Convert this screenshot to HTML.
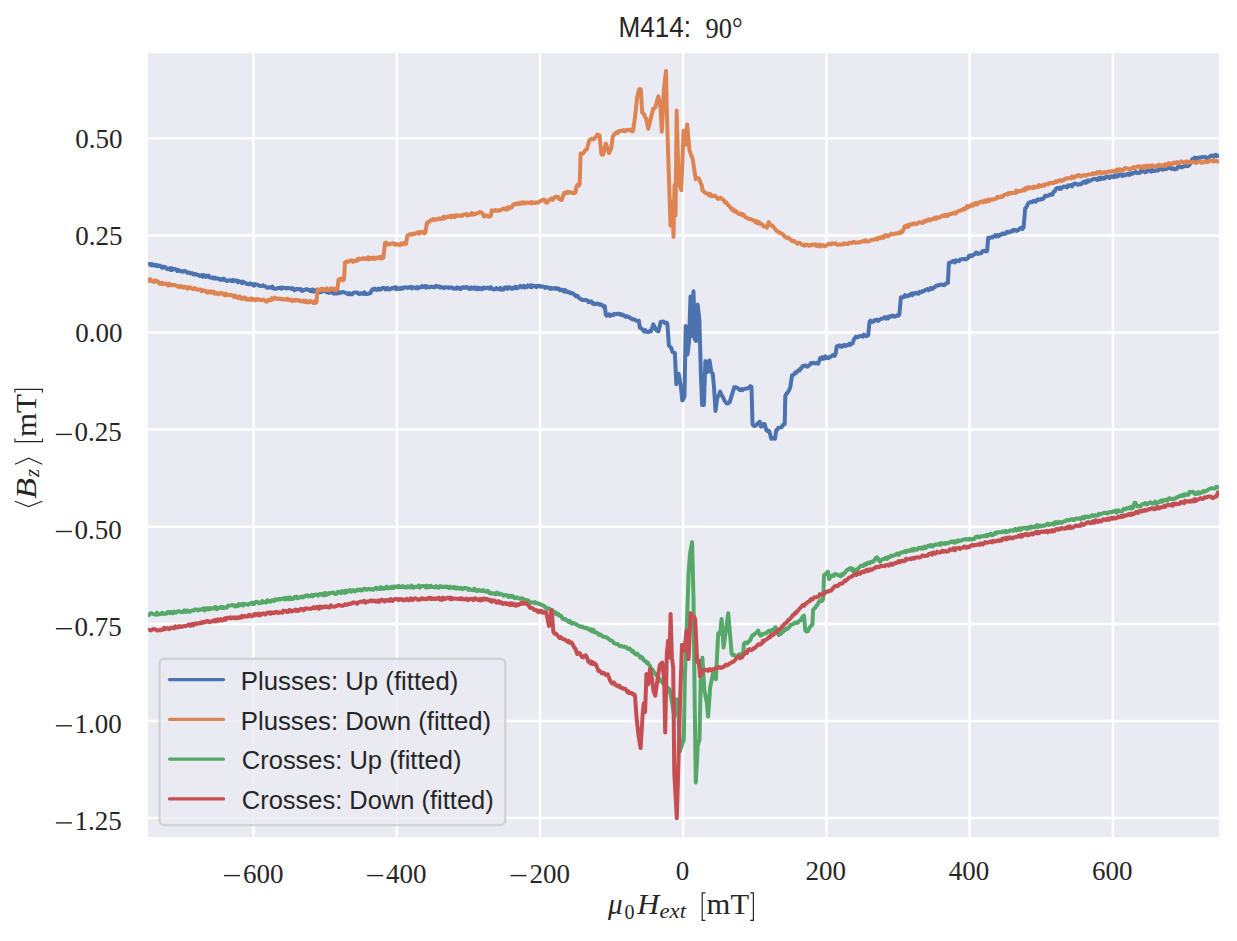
<!DOCTYPE html>
<html><head><meta charset="utf-8"><title>M414</title><style>
html,body{margin:0;padding:0;background:#ffffff;}
body{width:1237px;height:941px;overflow:hidden;}
svg{display:block;}
.t{font-family:"Liberation Serif",serif;fill:#262626;}
.s{font-family:"Liberation Sans",sans-serif;fill:#262626;}
</style></head><body>
<svg width="1237" height="941" viewBox="0 0 1237 941">
<defs><clipPath id="ax"><rect x="148" y="53" width="1071" height="784"/></clipPath></defs>
<rect x="0" y="0" width="1237" height="941" fill="#ffffff"/>
<rect x="148" y="53" width="1071" height="784" fill="#EAEAF2"/>
<g stroke="#ffffff" stroke-width="2.5"><line x1="253.5" y1="53" x2="253.5" y2="837"/><line x1="396.7" y1="53" x2="396.7" y2="837"/><line x1="540.0" y1="53" x2="540.0" y2="837"/><line x1="683.1" y1="53" x2="683.1" y2="837"/><line x1="826.4" y1="53" x2="826.4" y2="837"/><line x1="969.6" y1="53" x2="969.6" y2="837"/><line x1="1112.9" y1="53" x2="1112.9" y2="837"/><line x1="148" y1="138.3" x2="1219" y2="138.3"/><line x1="148" y1="235.4" x2="1219" y2="235.4"/><line x1="148" y1="332.5" x2="1219" y2="332.5"/><line x1="148" y1="429.6" x2="1219" y2="429.6"/><line x1="148" y1="526.7" x2="1219" y2="526.7"/><line x1="148" y1="623.9" x2="1219" y2="623.9"/><line x1="148" y1="721.0" x2="1219" y2="721.0"/><line x1="148" y1="818.1" x2="1219" y2="818.1"/></g>
<g clip-path="url(#ax)" fill="none" stroke-width="4.0" stroke-linejoin="round" stroke-linecap="butt">
<polyline stroke="#4C72B0" points="148.0,264.3 149.0,264.1 150.0,263.9 151.0,265.2 152.1,264.2 153.1,265.4 154.1,265.2 155.1,264.7 156.1,265.9 157.1,265.1 158.1,266.2 159.1,265.6 160.1,265.8 161.2,266.7 162.2,267.8 163.2,266.5 164.2,267.5 165.2,267.1 166.2,268.2 167.2,269.1 168.2,268.5 169.2,268.4 170.2,269.9 171.2,268.0 172.2,270.0 173.3,269.0 174.3,268.9 175.3,269.1 176.3,269.7 177.3,271.0 178.3,269.9 179.3,271.0 180.3,271.0 181.3,271.5 182.3,271.2 183.3,271.8 184.4,270.9 185.4,271.1 186.4,271.7 187.4,272.9 188.4,272.6 189.4,272.6 190.4,273.4 191.4,273.3 192.4,273.2 193.5,274.5 194.5,274.5 195.5,273.7 196.5,274.5 197.5,274.9 198.5,274.9 199.5,275.9 200.6,275.8 201.6,275.0 202.6,276.7 203.6,275.0 204.6,275.8 205.6,276.8 206.6,275.6 207.6,276.5 208.6,275.7 209.7,277.3 210.7,277.7 211.7,277.5 212.7,277.5 213.7,278.5 214.7,277.5 215.7,278.5 216.7,278.4 217.7,278.6 218.7,278.5 219.7,279.5 220.8,279.9 221.8,279.1 222.8,279.7 223.8,278.5 224.8,280.1 225.8,280.2 226.8,281.1 227.8,280.9 228.8,280.4 229.8,280.1 230.8,280.4 231.8,281.2 232.9,279.9 233.9,281.1 234.9,280.6 235.9,280.6 236.9,280.6 237.9,282.3 238.9,281.1 239.9,281.5 240.9,282.0 242.0,283.2 243.0,281.6 244.0,282.5 245.0,282.8 246.0,283.1 247.0,284.1 248.0,284.1 249.1,284.4 250.1,283.3 251.1,283.9 252.1,283.9 253.1,285.3 254.1,285.7 255.1,284.1 256.1,284.4 257.1,284.7 258.2,284.9 259.2,285.7 260.2,286.1 261.2,286.1 262.2,285.7 263.2,285.3 264.2,286.3 265.2,286.3 266.2,286.9 267.2,287.9 268.2,287.4 269.2,287.2 270.3,287.5 271.3,287.8 272.3,286.6 273.3,288.6 274.3,288.4 275.3,288.8 276.3,288.7 277.3,288.2 278.3,288.0 279.3,288.1 280.3,287.5 281.4,288.8 282.4,287.6 283.4,287.7 284.4,288.0 285.4,288.0 286.4,288.5 287.4,287.9 288.4,287.9 289.4,288.3 290.5,288.2 291.5,288.9 292.5,288.2 293.5,289.3 294.5,290.2 295.5,289.7 296.5,288.7 297.6,289.0 298.6,289.3 299.6,289.4 300.6,289.0 301.6,290.6 302.6,291.0 303.6,289.9 304.6,290.0 305.6,289.2 306.7,289.3 307.7,289.9 308.7,289.8 309.7,290.4 310.7,291.2 311.7,289.8 312.7,289.6 313.7,291.7 314.7,290.9 315.7,290.1 316.7,291.1 317.8,290.0 318.8,291.2 319.8,292.3 320.8,292.1 321.8,291.8 322.8,290.9 323.8,291.2 324.8,290.9 325.8,291.7 326.9,292.5 327.9,292.1 328.9,292.8 330.0,292.4 331.0,292.1 332.0,291.9 333.0,293.2 334.1,293.7 335.1,293.4 336.1,293.4 337.1,293.5 338.1,293.3 339.1,292.2 340.1,292.9 341.1,292.6 342.1,292.0 343.2,292.0 344.2,292.6 345.2,292.6 346.2,293.2 347.2,293.6 348.2,294.2 349.2,293.1 350.2,294.2 351.2,294.3 352.2,294.2 353.3,292.9 354.3,292.6 355.3,292.6 356.3,292.5 357.3,292.5 358.3,293.5 359.3,294.1 360.3,293.9 361.3,293.2 362.3,293.5 363.3,293.9 364.3,292.3 365.4,293.6 366.4,294.1 367.4,293.8 368.4,293.8 369.4,293.2 370.4,293.2 371.6,290.4 372.8,289.1 373.8,289.7 374.9,288.7 375.9,289.6 377.0,290.0 378.0,288.7 379.1,288.7 380.1,289.8 381.1,289.3 382.2,288.0 383.2,287.9 384.3,287.9 385.3,289.5 386.4,289.3 387.4,287.8 388.4,289.2 389.5,289.5 390.5,288.8 391.6,288.1 392.6,288.5 393.7,287.5 394.7,288.3 395.7,287.2 396.7,289.3 397.7,288.5 398.7,288.2 399.7,289.1 400.7,287.9 401.8,288.8 402.8,288.7 403.8,287.3 404.8,287.4 405.8,287.4 406.8,287.2 407.8,288.0 408.8,287.2 409.8,287.5 410.8,286.8 411.8,288.5 412.8,287.3 413.8,287.4 414.9,287.7 415.9,288.3 416.9,287.2 417.9,288.3 418.9,287.3 419.9,287.4 420.9,287.3 421.9,286.2 422.9,287.0 423.9,286.4 424.9,286.0 425.9,287.7 426.9,286.3 427.9,286.9 429.0,287.4 430.0,287.0 431.0,286.5 432.0,286.9 433.0,286.9 434.0,287.4 435.0,286.7 436.0,285.9 437.0,286.9 438.0,286.3 439.1,286.4 440.1,287.6 441.1,287.0 442.1,287.2 443.1,287.7 444.1,288.1 445.1,287.1 446.1,287.5 447.1,287.4 448.2,287.4 449.2,287.9 450.2,287.4 451.2,287.6 452.2,287.6 453.2,288.6 454.2,288.2 455.2,288.6 456.3,288.8 457.3,287.4 458.3,288.1 459.3,288.0 460.3,289.0 461.3,288.8 462.3,287.2 463.4,287.2 464.4,287.9 465.4,287.1 466.4,287.5 467.4,287.1 468.4,288.5 469.4,288.7 470.4,289.0 471.4,287.4 472.5,288.6 473.5,288.5 474.5,287.4 475.5,289.0 476.5,289.2 477.5,287.6 478.5,289.2 479.6,288.0 480.6,288.2 481.6,289.3 482.6,288.9 483.6,287.5 484.6,288.1 485.6,288.3 486.6,287.9 487.6,287.6 488.7,287.9 489.7,288.8 490.7,287.2 491.7,288.3 493.4,289.4 494.4,289.4 495.4,289.1 496.5,288.1 497.5,288.7 498.5,289.3 499.5,288.9 500.5,287.9 501.6,289.8 502.6,289.3 503.6,289.6 504.6,287.6 505.7,287.9 506.7,287.3 507.7,288.8 508.7,287.6 509.7,287.2 510.8,287.8 511.8,288.8 512.8,287.8 513.8,288.4 514.8,287.1 515.8,286.7 516.8,288.3 517.8,287.5 518.8,287.6 519.8,286.2 520.8,286.0 521.9,287.3 522.9,286.6 523.9,285.8 524.9,287.6 525.9,286.8 526.9,287.1 527.9,285.4 528.9,286.2 530.0,287.0 531.1,285.2 532.1,287.0 533.2,286.1 534.3,285.8 535.4,286.3 536.4,287.1 537.5,285.7 538.6,286.2 539.7,285.7 540.8,286.8 541.9,286.4 542.9,286.4 544.0,286.8 545.1,287.8 546.1,286.9 547.1,287.3 548.1,287.7 549.2,287.8 550.2,288.9 551.2,287.9 552.2,288.5 553.2,288.6 554.3,288.1 555.4,288.7 556.4,288.1 557.5,288.9 558.6,288.5 559.7,290.3 560.7,290.1 561.8,289.5 562.9,290.3 564.0,291.6 565.0,289.9 566.1,291.0 567.2,292.1 568.3,291.7 569.4,292.2 570.4,293.3 571.5,292.8 572.6,293.4 573.7,294.0 574.8,295.1 575.8,296.3 576.9,295.5 578.0,296.5 579.1,298.1 580.1,298.7 581.2,299.3 582.3,299.9 583.3,300.0 584.4,300.1 585.4,299.8 586.4,300.2 587.4,300.4 588.5,302.2 589.5,301.4 590.5,301.5 591.5,301.6 592.6,303.6 593.6,303.1 594.6,304.2 595.7,304.1 596.7,303.5 597.7,303.7 598.7,304.1 599.8,304.8 600.8,304.4 601.8,305.4 602.8,305.3 603.9,307.1 604.9,306.4 605.7,314.5 606.7,315.7 607.8,314.8 608.8,314.3 609.9,316.0 610.9,314.7 612.0,314.9 613.0,315.3 614.2,313.8 615.4,314.2 616.6,314.0 617.8,313.7 618.8,314.1 619.8,313.8 620.8,314.9 621.8,314.2 622.9,315.2 623.9,315.2 624.9,316.3 625.9,316.9 626.9,316.2 627.9,316.4 628.9,317.4 630.0,317.5 631.0,318.6 632.0,318.8 633.0,319.6 634.0,319.3 635.2,320.0 636.5,320.6 637.7,321.3 638.9,320.9 639.9,327.6 640.9,328.1 641.9,328.8 642.9,329.9 644.1,331.4 645.3,330.0 646.4,331.7 647.6,332.0 648.8,332.1 649.9,330.7 651.0,331.3 653.3,324.3 654.8,327.6 656.0,329.6 657.3,330.9 658.5,331.3 660.7,321.7 662.0,321.8 663.4,321.4 664.4,322.5 665.4,323.3 666.4,322.5 667.4,323.9 668.9,345.5 670.0,346.7 671.1,347.7 672.6,352.2 673.8,352.6 674.9,352.9 676.3,384.2 678.6,373.8 680.8,385.7 682.3,400.5 683.4,399.0 684.5,396.1 685.7,326.1 687.5,354.4 689.0,342.5 690.5,296.4 692.0,336.5 693.5,291.2 694.9,339.5 696.1,341.0 697.6,304.6 699.4,320.2 700.9,375.2 702.1,405.0 703.9,405.0 705.4,361.0 707.6,372.0 709.5,360.4 711.3,372.0 712.8,374.0 714.0,387.0 715.5,411.0 717.3,397.6 718.8,395.3 720.2,391.6 721.2,394.3 722.2,395.8 723.2,397.6 724.4,400.5 725.6,402.0 726.8,403.6 728.2,403.3 729.7,402.1 734.2,387.3 735.4,387.3 736.6,387.4 737.7,388.2 738.9,389.3 740.1,390.2 741.2,389.0 742.4,390.2 743.5,389.3 744.6,388.8 745.8,388.7 746.9,388.4 748.0,388.2 749.2,387.4 750.4,386.0 751.5,386.8 752.5,424.1 753.6,425.7 754.8,426.0 756.0,425.5 757.2,423.9 758.5,422.9 759.7,421.7 760.9,426.6 762.1,426.1 763.4,424.0 764.6,424.1 766.4,430.2 767.4,431.2 768.4,430.5 769.4,431.5 771.3,438.8 772.5,437.9 773.8,438.3 775.0,438.8 776.2,430.2 777.2,429.9 778.2,428.0 779.2,427.8 780.3,427.6 781.4,427.4 782.5,425.6 783.6,424.6 784.7,424.1 785.3,396.0 786.5,393.8 787.8,392.2 789.0,390.2 790.2,387.5 792.1,375.2 793.1,374.9 794.2,374.3 795.2,372.5 796.3,372.8 797.4,371.1 798.4,370.3 799.5,370.5 800.5,368.5 801.6,368.2 802.6,366.0 803.7,366.1 804.9,365.3 806.1,366.0 807.3,366.7 808.5,365.8 809.8,364.7 811.0,363.0 812.0,363.5 813.1,362.7 814.1,363.3 815.2,363.3 816.2,363.4 817.3,362.7 818.3,363.6 820.2,358.1 821.2,358.8 822.3,357.2 823.3,358.8 824.4,358.6 825.4,356.4 826.4,357.3 827.5,358.0 828.5,358.2 829.6,356.9 830.6,356.9 831.8,355.8 833.0,355.0 834.3,356.0 835.5,354.4 836.7,346.5 837.7,345.8 838.7,346.5 839.8,345.4 840.8,346.2 841.8,347.0 842.8,345.9 843.9,344.8 845.0,346.0 846.1,345.1 847.2,345.6 848.2,345.0 849.3,343.6 850.4,344.8 851.5,343.6 852.6,343.4 853.8,339.6 855.0,337.9 856.0,336.6 857.0,337.4 858.0,337.1 859.0,336.5 860.0,335.9 861.0,336.1 862.0,335.8 863.0,336.7 864.0,334.6 865.0,335.5 866.1,336.0 867.1,336.0 868.2,335.2 869.6,321.5 870.7,320.5 871.7,322.0 872.8,321.3 873.9,321.5 875.0,320.0 876.0,320.0 877.1,319.8 878.2,320.9 879.2,319.8 880.3,319.4 881.3,318.8 882.3,318.7 883.3,318.1 884.3,317.4 885.3,317.2 886.3,318.6 887.3,317.1 888.3,318.3 889.3,316.5 890.4,316.3 891.4,316.5 892.4,315.6 893.4,315.7 894.4,316.7 895.4,316.3 896.4,315.9 897.4,315.2 898.4,315.6 899.4,314.4 900.9,297.2 901.9,297.9 903.0,296.8 904.0,296.9 905.0,295.2 906.1,296.4 907.1,295.5 908.2,295.9 909.2,295.4 910.2,294.4 911.3,293.6 912.3,295.2 913.3,293.2 914.4,293.7 915.4,293.2 916.5,292.8 917.5,293.5 918.5,293.8 919.6,291.9 920.6,292.2 921.6,292.2 922.6,291.0 923.6,291.2 924.7,290.5 925.7,289.6 926.7,289.3 927.7,289.0 928.7,290.2 929.7,288.9 930.7,287.9 931.8,289.1 932.8,288.9 933.8,287.4 934.8,287.1 935.8,286.0 936.8,285.8 937.8,285.3 938.8,285.5 939.8,284.7 940.8,284.7 941.9,284.4 942.9,284.8 943.9,285.2 944.9,284.6 945.9,283.5 946.9,283.2 947.9,283.1 948.9,262.9 949.9,262.7 950.9,262.1 951.9,261.8 952.9,260.9 953.9,261.2 954.9,262.4 955.9,260.3 957.0,260.9 958.0,260.9 959.0,261.2 960.0,259.5 961.0,259.4 962.0,259.1 963.0,259.2 964.0,259.0 965.0,258.9 966.0,259.4 967.0,258.6 968.0,258.2 969.0,255.8 970.0,255.3 971.1,256.3 972.1,256.2 973.1,254.8 974.1,254.5 975.1,253.8 976.1,252.5 977.1,253.1 978.1,254.0 979.1,253.5 980.1,253.3 981.2,253.3 982.2,251.5 983.2,250.9 984.2,250.8 985.2,251.3 986.2,251.5 987.2,250.8 988.2,237.7 989.2,238.4 990.2,237.7 991.2,237.3 992.3,237.4 993.3,236.5 994.3,236.4 995.3,235.1 996.3,236.5 997.3,235.0 998.4,236.3 999.4,235.5 1000.4,234.5 1001.4,234.7 1002.4,233.6 1003.4,233.5 1004.4,234.0 1005.4,233.8 1006.4,232.2 1007.5,231.8 1008.5,232.5 1009.5,232.3 1010.5,231.5 1011.5,230.9 1012.5,231.4 1013.5,229.8 1014.5,230.1 1015.5,230.1 1016.5,230.9 1017.5,229.9 1018.6,230.1 1019.6,228.8 1020.6,228.0 1021.6,227.7 1022.6,228.9 1023.6,227.6 1025.2,208.4 1026.3,207.4 1027.4,205.0 1028.5,202.8 1029.6,202.4 1030.6,202.1 1031.7,202.3 1032.7,201.4 1033.8,200.8 1034.8,201.5 1035.8,201.8 1036.9,200.0 1037.9,199.3 1039.0,199.7 1040.0,199.8 1041.2,199.1 1042.5,199.2 1043.7,198.3 1044.8,196.2 1045.8,195.5 1047.0,196.0 1048.1,195.7 1049.3,195.1 1050.4,194.3 1051.6,194.8 1052.7,194.4 1053.8,191.4 1054.9,191.1 1056.0,188.9 1057.0,188.1 1058.0,187.8 1059.0,188.8 1060.0,187.6 1061.0,188.8 1062.0,187.6 1063.1,186.7 1064.1,186.5 1065.1,186.7 1066.1,187.0 1067.1,187.4 1068.1,185.4 1069.1,186.0 1070.1,185.5 1071.2,184.9 1072.2,186.3 1073.3,184.2 1074.3,183.7 1075.4,183.5 1076.4,184.0 1077.4,184.8 1078.5,184.5 1079.5,183.9 1080.6,184.3 1081.6,183.9 1082.7,182.3 1083.7,182.4 1084.7,181.4 1085.8,182.8 1086.8,182.1 1087.8,180.3 1088.9,181.4 1089.9,180.5 1091.0,180.3 1092.0,179.9 1093.0,179.3 1094.1,178.7 1095.1,179.0 1096.1,178.9 1097.2,180.0 1098.2,178.7 1099.2,177.7 1100.3,179.4 1101.3,177.6 1102.4,177.8 1103.4,178.7 1104.5,178.5 1105.5,177.5 1106.5,176.5 1107.6,177.3 1108.6,176.9 1109.7,178.0 1110.7,176.2 1111.8,176.5 1112.8,176.6 1113.8,177.3 1114.9,175.3 1115.9,175.9 1116.9,176.7 1118.0,176.4 1119.0,174.6 1120.0,174.5 1121.1,174.4 1122.1,176.1 1123.2,174.5 1124.2,175.4 1125.2,175.6 1126.3,174.2 1127.3,174.4 1128.3,173.7 1129.4,175.0 1130.4,174.0 1131.5,173.0 1132.5,173.8 1133.6,172.8 1134.6,172.5 1135.6,171.7 1136.7,173.1 1137.7,173.2 1138.8,172.4 1139.8,172.9 1140.9,170.7 1141.9,171.5 1142.9,170.8 1144.0,171.3 1145.0,172.2 1146.0,172.1 1147.1,170.8 1148.1,170.4 1149.2,170.7 1150.2,170.7 1151.2,171.6 1152.3,169.9 1153.3,171.1 1154.3,170.9 1155.4,171.0 1156.4,170.2 1157.5,170.6 1158.5,170.1 1159.6,169.3 1160.6,169.1 1161.7,169.0 1162.8,169.8 1163.8,168.1 1164.9,168.2 1165.9,169.2 1167.0,168.5 1168.1,168.0 1169.2,167.7 1170.4,167.7 1171.5,168.9 1172.6,168.8 1173.6,168.2 1174.7,169.4 1175.7,169.0 1176.7,169.0 1177.8,167.2 1178.8,166.6 1179.9,166.4 1180.9,167.1 1181.9,167.4 1183.0,166.6 1184.0,166.5 1185.0,165.7 1186.0,165.9 1187.0,166.2 1188.0,166.1 1189.0,165.5 1190.1,163.8 1191.3,161.9 1192.4,158.9 1193.5,159.1 1194.6,157.7 1195.6,159.1 1196.7,157.7 1197.8,158.2 1198.8,157.6 1199.9,158.2 1201.0,157.5 1202.1,156.9 1203.2,157.1 1204.4,157.2 1205.5,157.1 1206.6,158.0 1207.7,158.3 1208.9,157.2 1210.0,156.1 1211.2,155.8 1212.3,155.5 1213.4,156.6 1214.5,155.5 1215.7,154.9 1216.8,156.2 1217.9,155.8 1219.0,155.5"/>
<polyline stroke="#DD8452" points="148.0,279.6 149.0,280.9 150.0,279.2 151.0,280.3 152.1,281.3 153.1,281.6 154.1,282.0 155.1,280.4 156.1,281.2 157.1,281.1 158.1,281.5 159.1,283.5 160.1,282.9 161.2,283.9 162.2,282.9 163.2,284.2 164.2,283.7 165.2,283.8 166.2,283.6 167.2,284.9 168.2,285.5 169.2,283.8 170.2,285.1 171.2,285.4 172.2,284.7 173.3,285.2 174.3,284.9 175.3,285.2 176.3,285.6 177.3,286.5 178.3,286.8 179.3,286.0 180.3,286.9 181.3,286.0 182.3,286.8 183.3,287.7 184.4,286.8 185.4,287.2 186.4,287.1 187.4,288.6 188.4,288.2 189.4,287.3 190.4,287.5 191.4,288.3 192.4,288.8 193.5,289.2 194.5,288.1 195.5,288.4 196.5,289.3 197.5,289.9 198.5,289.5 199.5,289.4 200.6,289.7 201.6,291.3 202.6,290.1 203.6,290.8 204.6,290.6 205.6,290.9 206.6,292.1 207.6,292.6 208.6,291.4 209.7,291.2 210.7,292.6 211.7,291.6 212.7,292.5 213.7,291.6 214.7,293.7 215.7,292.8 216.7,293.8 217.7,293.1 218.7,294.3 219.7,293.5 220.8,293.0 221.8,292.8 222.8,294.2 223.8,294.5 224.8,295.3 225.8,293.6 226.8,295.0 227.8,294.6 228.8,295.0 229.8,295.2 230.8,294.7 231.8,295.2 232.9,295.9 233.9,297.0 234.9,295.5 235.9,296.5 236.9,297.4 237.9,298.0 238.9,296.5 239.9,296.6 240.9,298.6 242.0,298.9 243.0,298.0 244.0,297.3 245.0,298.5 246.0,299.5 247.0,298.5 248.0,299.7 249.1,299.2 250.1,299.7 251.1,298.4 252.1,299.8 253.1,298.7 254.1,299.2 255.1,300.3 256.1,300.3 257.1,299.0 258.2,299.2 259.2,299.7 260.2,300.0 261.2,300.1 262.3,300.0 263.3,299.6 264.4,300.0 265.5,301.3 266.5,301.8 267.6,301.1 268.7,299.6 269.8,300.3 270.9,300.2 271.9,298.2 273.0,299.4 274.1,298.2 275.1,297.5 276.2,298.7 277.2,298.7 278.2,299.0 279.2,298.4 280.3,298.7 281.3,299.2 282.3,299.0 283.3,299.6 284.4,299.3 285.4,299.5 286.4,299.5 287.4,298.7 288.4,300.1 289.4,300.0 290.5,299.5 291.5,300.8 292.5,300.9 293.5,300.4 294.5,299.9 295.5,300.6 296.5,299.9 297.6,300.1 298.6,300.9 299.6,300.3 300.6,301.2 301.6,301.4 302.7,301.5 303.7,300.5 304.8,301.9 305.9,300.7 306.9,302.2 308.0,302.4 309.1,301.8 310.1,300.9 311.2,301.9 312.2,301.7 313.3,303.0 314.4,301.3 315.4,302.9 316.5,302.2 317.5,289.3 318.5,290.4 319.6,289.8 320.6,289.9 321.7,288.6 322.7,290.3 323.8,289.2 324.8,290.2 325.8,290.1 326.9,288.4 327.9,289.8 329.0,290.1 330.0,289.1 331.1,288.2 332.1,288.8 333.2,289.7 334.3,288.5 335.4,290.1 336.4,288.8 337.5,289.3 338.5,279.4 339.6,280.1 340.7,278.6 341.8,279.4 342.9,280.3 344.0,279.4 345.0,262.5 346.0,261.7 347.1,261.6 348.1,261.9 349.1,261.3 350.2,260.5 351.2,260.7 352.2,260.4 353.3,261.9 354.3,260.8 355.3,260.9 356.3,261.1 357.3,259.2 358.3,260.2 359.3,258.5 360.3,259.1 361.3,259.0 362.3,258.4 363.3,258.1 364.3,259.1 365.3,258.4 366.3,258.4 367.3,259.1 368.3,257.3 369.3,259.2 370.3,258.4 371.3,257.8 372.3,258.7 373.4,257.5 374.4,259.0 375.4,258.1 376.4,257.6 377.4,258.4 378.4,257.7 379.4,257.0 380.4,258.3 381.4,256.7 382.4,258.3 383.4,257.6 385.0,243.0 386.1,242.6 387.2,243.7 388.2,244.6 389.3,243.9 390.4,244.3 391.5,243.7 392.5,243.2 393.6,243.5 394.7,244.7 395.7,243.9 396.8,244.8 397.8,244.3 398.8,244.4 399.8,245.2 400.9,243.5 401.9,243.6 402.9,244.5 403.9,243.0 405.0,242.9 406.0,243.9 407.3,235.8 408.3,235.2 409.3,234.4 410.3,234.6 411.3,234.1 412.3,234.6 413.3,234.3 414.3,233.2 415.3,233.8 416.3,233.2 417.3,233.0 418.3,232.1 419.3,233.8 420.3,232.2 421.4,232.0 422.4,231.8 423.4,232.9 424.4,233.4 425.4,232.5 427.0,222.4 428.4,222.3 429.7,220.9 430.8,220.4 431.9,219.8 432.9,219.0 434.0,220.2 435.1,219.7 436.2,219.0 437.2,219.4 438.3,218.6 439.4,218.5 440.5,219.3 441.6,218.7 442.6,217.4 443.7,218.7 444.8,216.7 445.9,217.6 446.9,217.1 448.0,216.6 449.1,217.0 450.2,215.9 451.3,217.3 452.3,215.5 453.4,216.5 454.5,217.2 455.6,215.3 456.6,215.3 457.7,216.0 458.8,215.6 459.9,215.5 461.0,215.7 462.0,216.0 463.1,214.4 464.2,214.6 465.3,214.5 466.3,213.8 467.4,215.6 468.5,214.6 469.6,215.1 470.7,214.7 471.7,213.0 472.8,214.7 473.9,214.3 475.0,213.5 476.0,214.0 477.1,213.2 478.2,213.1 479.6,212.0 481.1,212.2 482.6,213.5 484.0,216.5 485.1,215.8 486.3,215.3 487.4,215.9 488.5,216.7 489.7,216.5 490.8,216.0 491.8,210.2 493.0,211.1 494.1,210.9 495.3,210.0 496.4,210.7 497.6,210.7 498.8,210.2 500.0,210.6 501.2,209.6 502.4,209.2 503.5,208.5 504.6,209.2 505.7,209.7 506.8,207.9 507.9,209.2 509.0,207.1 510.1,207.4 511.2,207.8 513.1,204.9 514.4,203.8 515.7,204.4 517.0,203.4 518.1,204.3 519.2,203.7 520.2,202.7 521.3,203.8 522.4,202.5 523.5,202.2 524.5,203.6 525.6,202.9 526.7,202.5 527.8,202.9 528.9,202.7 530.0,202.3 531.0,203.4 532.0,202.2 533.0,203.0 534.0,202.7 535.0,203.1 536.0,202.2 537.0,202.8 538.0,202.5 539.0,202.3 540.1,201.2 541.3,200.3 542.5,200.5 543.6,199.6 544.8,199.7 546.0,202.6 547.2,202.7 548.4,200.9 549.6,199.6 550.8,199.6 551.8,198.4 552.9,199.8 554.0,198.1 555.0,197.3 556.0,196.6 557.1,197.3 558.2,197.0 559.4,199.1 560.5,199.6 561.6,200.0 564.3,192.8 565.4,193.2 566.4,193.2 567.5,191.6 568.6,192.7 569.6,192.1 570.7,192.3 571.9,193.0 573.1,193.0 574.3,193.2 575.5,192.3 576.5,186.5 577.6,184.8 578.6,185.8 579.7,184.2 580.6,153.5 581.8,153.9 583.0,153.5 584.2,152.1 585.5,149.9 586.9,149.4 589.2,140.4 590.2,139.5 591.2,139.1 592.2,138.7 593.2,139.5 594.2,139.0 595.2,137.7 596.3,136.0 597.3,134.5 598.5,135.7 599.6,135.4 601.4,154.4 603.2,154.4 605.9,143.6 609.0,153.0 610.1,150.8 611.3,148.1 612.7,136.8 613.7,135.3 614.8,133.8 615.8,133.6 616.8,132.0 617.9,132.8 619.0,130.9 620.0,130.9 621.2,130.6 622.4,130.9 623.6,130.1 624.8,131.2 625.8,130.3 626.9,130.0 628.0,130.5 629.0,129.7 630.0,129.7 631.0,129.8 632.1,131.5 633.1,130.7 635.1,116.6 637.1,97.4 639.1,89.3 640.8,89.3 642.2,112.5 643.2,113.5 644.2,114.5 645.2,117.3 646.2,118.6 648.2,128.7 650.3,120.6 653.3,108.5 654.3,108.3 655.3,107.5 658.3,96.4 660.4,106.5 661.8,131.7 663.8,90.3 666.0,71.1 666.8,110.5 668.0,148.9 670.5,225.7 672.5,201.4 673.5,236.8 674.5,185.3 675.5,215.6 676.7,110.5 678.5,181.2 681.2,190.3 683.6,130.7 685.6,144.8 687.2,124.6 689.6,150.9 692.7,159.0 695.7,179.2 696.7,177.8 697.7,178.3 698.7,178.2 699.7,180.4 700.8,183.5 701.8,185.3 702.4,190.4 703.5,190.9 704.7,192.6 705.9,193.0 707.0,193.8 708.1,193.6 709.2,195.5 710.4,194.2 711.5,196.3 712.6,196.0 713.7,195.7 714.9,195.7 716.0,196.5 717.1,198.1 718.3,199.0 719.4,198.3 720.5,197.6 721.7,199.0 722.8,199.4 723.9,200.5 725.0,202.4 726.2,202.2 727.3,204.0 728.4,205.3 729.6,206.3 730.7,207.9 731.8,209.5 733.0,209.1 734.1,211.4 735.2,210.8 736.4,211.5 737.5,213.0 738.6,213.9 739.8,213.9 740.9,213.5 742.0,215.2 743.2,214.4 744.3,215.8 745.4,217.2 746.6,217.7 747.8,218.6 748.9,218.7 750.0,219.4 751.1,219.2 752.3,219.8 753.4,220.4 754.5,220.7 755.7,222.4 756.8,221.2 757.9,223.5 759.1,222.2 760.2,223.8 761.3,223.8 762.5,224.6 763.6,226.6 764.7,226.4 765.9,226.8 767.0,227.7 768.7,222.1 770.1,224.6 771.5,225.5 772.6,225.9 773.8,227.5 774.9,228.7 776.0,230.2 777.2,231.2 778.3,231.7 779.4,232.8 780.5,232.9 781.7,233.7 782.8,234.1 783.9,235.6 785.0,237.0 786.2,237.3 787.3,238.2 788.5,237.6 789.6,239.0 790.7,239.5 791.9,241.0 793.0,241.2 794.2,240.9 795.3,242.4 796.4,242.6 797.6,243.9 798.7,242.8 799.8,243.0 800.9,243.6 802.1,244.8 803.2,244.7 804.3,245.7 805.4,244.4 806.6,244.6 807.7,245.0 808.8,245.8 809.9,245.2 811.1,245.4 812.2,244.4 813.4,244.5 814.5,244.7 815.6,244.2 816.8,246.1 817.9,245.7 819.0,244.5 820.1,246.5 821.3,244.8 822.4,245.8 823.5,245.3 824.6,246.4 825.7,245.7 826.7,245.3 827.8,244.4 828.9,243.7 830.0,244.1 831.1,244.4 832.1,243.3 833.2,243.5 834.3,244.0 835.3,243.2 836.4,244.0 837.5,244.9 838.5,244.7 839.6,244.3 840.7,244.6 841.7,244.3 842.8,244.4 843.8,243.4 844.9,244.1 845.9,243.5 846.9,244.0 847.9,244.1 849.0,242.8 850.0,242.7 851.0,242.8 852.0,243.0 853.0,242.2 854.0,241.7 855.0,242.7 856.1,242.9 857.1,242.6 858.1,242.3 859.1,242.6 860.1,242.1 861.1,241.9 862.1,241.4 863.1,241.0 864.1,241.6 865.2,240.3 866.2,240.9 867.2,241.6 868.2,241.4 869.2,241.1 870.2,240.7 871.2,239.9 872.2,239.9 873.2,239.7 874.2,239.8 875.2,239.0 876.3,239.3 877.3,239.5 878.3,237.6 879.3,238.3 880.3,238.3 881.3,237.2 882.3,237.1 883.3,237.8 884.3,235.5 885.4,236.3 886.4,235.2 887.4,236.2 888.4,236.3 889.4,235.0 890.4,234.7 891.4,233.6 892.4,234.3 893.4,234.0 894.4,234.1 895.4,233.4 896.5,233.5 897.5,233.6 898.5,232.7 899.5,232.2 900.5,233.1 901.5,231.2 902.5,231.6 903.5,229.5 904.5,226.6 905.5,226.1 906.5,226.7 907.5,225.0 908.5,226.7 909.5,225.0 910.5,224.1 911.5,224.4 912.5,224.4 913.6,223.3 914.6,223.9 915.6,223.7 916.6,224.0 917.6,223.0 918.6,222.6 919.6,222.2 920.6,222.6 921.6,222.8 922.6,223.0 923.6,221.7 924.6,220.8 925.6,221.7 926.7,220.5 927.7,219.8 928.7,219.3 929.7,220.5 930.7,220.2 931.7,219.5 932.7,218.9 933.7,218.8 934.7,217.7 935.8,219.0 936.8,217.4 937.8,217.7 938.8,217.8 939.8,217.5 940.8,216.5 941.8,216.2 942.8,215.6 943.8,216.0 944.8,214.8 945.8,216.2 946.8,214.9 947.8,215.8 948.9,214.3 949.9,214.3 950.9,213.8 951.9,214.0 952.9,213.2 953.9,212.6 954.9,213.5 955.9,213.5 956.9,211.9 957.9,211.3 959.0,210.9 960.0,210.8 961.0,210.1 962.0,210.1 963.0,209.6 964.0,208.4 965.0,209.1 966.1,208.4 967.1,206.1 968.1,207.3 969.1,206.0 970.1,206.6 971.1,206.0 972.1,204.3 973.1,205.5 974.1,204.8 975.2,203.1 976.2,202.8 977.2,204.6 978.2,203.6 979.2,202.5 980.2,201.8 981.2,201.6 982.2,201.5 983.2,202.4 984.2,201.2 985.2,200.4 986.3,201.8 987.3,201.2 988.3,199.6 989.3,200.9 990.3,199.9 991.3,199.4 992.3,199.7 993.3,199.2 994.3,199.4 995.3,198.8 996.3,198.6 997.4,196.9 998.4,197.7 999.4,197.0 1000.4,197.2 1001.4,196.2 1002.4,196.9 1003.4,195.9 1004.4,194.9 1005.4,194.5 1006.5,194.0 1007.5,194.5 1008.5,193.2 1009.5,193.8 1010.5,192.8 1011.5,193.3 1012.5,193.0 1013.5,192.7 1014.5,192.5 1015.5,192.9 1016.5,190.7 1017.5,192.2 1018.5,191.1 1019.5,191.0 1020.5,190.9 1021.5,191.0 1022.6,189.7 1023.6,189.5 1024.6,190.3 1025.6,188.1 1026.6,189.0 1027.6,188.7 1028.6,187.1 1029.6,188.1 1030.6,187.9 1031.6,187.2 1032.6,188.0 1033.7,186.5 1034.8,187.8 1035.8,186.6 1036.8,186.4 1037.9,187.2 1039.0,185.1 1040.0,186.0 1041.0,186.2 1042.1,185.7 1043.1,184.8 1044.2,185.7 1045.2,184.3 1046.3,184.3 1047.3,184.1 1048.3,184.4 1049.4,182.9 1050.4,183.1 1051.5,182.8 1052.5,182.8 1053.6,183.1 1054.6,182.1 1055.6,181.4 1056.7,182.2 1057.7,181.0 1058.7,180.9 1059.8,180.1 1060.8,180.4 1061.8,181.1 1062.9,180.1 1063.9,180.1 1065.0,178.8 1066.0,178.5 1067.0,178.1 1068.1,178.5 1069.1,178.0 1070.1,178.1 1071.2,178.2 1072.2,176.4 1073.3,177.7 1074.3,177.8 1075.4,176.9 1076.4,175.6 1077.4,175.9 1078.5,175.0 1079.5,175.2 1080.6,176.6 1081.6,175.8 1082.7,175.7 1083.7,175.1 1084.7,175.6 1085.8,175.7 1086.8,174.9 1087.8,174.7 1088.9,174.6 1089.9,174.6 1091.0,174.2 1092.0,174.2 1093.0,173.1 1094.1,173.9 1095.1,173.3 1096.1,173.8 1097.2,172.2 1098.2,172.9 1099.2,172.1 1100.3,171.7 1101.3,173.2 1102.4,173.4 1103.4,172.7 1104.5,172.0 1105.5,172.9 1106.5,172.7 1107.6,172.1 1108.6,171.4 1109.7,171.4 1110.7,171.5 1111.8,171.2 1112.8,171.5 1113.8,171.1 1114.9,171.4 1115.9,171.8 1116.9,169.7 1118.0,170.6 1119.0,169.2 1120.0,169.2 1121.1,170.5 1122.1,169.8 1123.2,170.3 1124.2,169.1 1125.2,167.9 1126.3,168.6 1127.3,168.6 1128.3,168.7 1129.4,169.3 1130.4,169.3 1131.5,168.1 1132.5,167.9 1133.6,167.1 1134.6,168.2 1135.6,167.1 1136.7,166.9 1137.7,166.5 1138.8,166.3 1139.8,167.7 1140.9,166.4 1141.9,167.1 1142.9,168.0 1144.0,166.0 1145.0,167.6 1146.0,165.9 1147.1,165.6 1148.1,167.0 1149.2,165.9 1150.2,166.9 1151.2,165.6 1152.3,165.2 1153.3,166.7 1154.3,166.5 1155.4,166.7 1156.4,165.8 1157.6,166.2 1158.8,164.7 1160.1,165.8 1161.3,165.4 1162.3,165.7 1163.4,165.0 1164.4,165.9 1165.4,164.2 1166.4,165.6 1167.5,165.0 1168.5,163.2 1169.5,163.1 1170.5,164.3 1171.6,164.6 1172.6,163.7 1173.7,162.5 1174.9,162.8 1176.0,163.5 1177.2,162.0 1178.3,162.5 1179.3,163.2 1180.4,162.4 1181.4,161.4 1182.4,162.0 1183.4,162.4 1184.5,162.1 1185.5,162.6 1186.5,161.4 1187.5,162.7 1188.6,161.7 1189.6,162.0 1190.6,162.3 1191.7,162.3 1192.7,161.8 1193.7,161.7 1194.8,162.6 1195.8,163.0 1196.9,162.6 1197.9,162.1 1198.9,161.5 1200.0,161.0 1201.0,162.0 1202.0,162.9 1203.1,162.2 1204.1,162.3 1205.1,161.1 1206.1,161.6 1207.2,162.3 1208.2,161.8 1209.2,161.2 1210.2,160.4 1211.3,160.6 1212.3,160.6 1213.4,161.5 1214.5,160.4 1215.7,161.1 1216.8,161.0 1217.9,161.6 1219.0,160.8"/>
<polyline stroke="#55A868" points="148.0,614.5 149.0,615.1 150.0,613.8 151.0,613.1 152.0,613.6 153.0,613.9 154.1,614.2 155.1,614.6 156.1,614.7 157.1,612.7 158.1,614.4 159.1,614.2 160.1,614.3 161.1,613.5 162.1,612.8 163.1,614.0 164.2,613.8 165.2,613.4 166.2,613.8 167.2,612.5 168.2,611.8 169.2,612.8 170.2,613.2 171.2,611.8 172.2,613.0 173.2,613.3 174.2,611.6 175.3,612.4 176.3,612.4 177.3,611.9 178.3,611.2 179.3,611.2 180.3,611.7 181.3,612.2 182.3,612.1 183.3,611.3 184.4,610.4 185.4,611.9 186.4,611.7 187.4,610.4 188.4,611.1 189.4,611.7 190.4,611.5 191.4,610.6 192.4,610.4 193.5,610.6 194.5,609.6 195.5,609.5 196.5,609.4 197.5,610.4 198.5,609.6 199.5,609.9 200.6,609.5 201.6,609.6 202.6,608.7 203.6,608.4 204.6,610.4 205.6,608.9 206.6,608.2 207.6,609.3 208.6,609.5 209.7,608.0 210.7,608.9 211.7,608.3 212.7,608.5 213.7,608.4 214.7,607.2 215.7,607.1 216.7,609.1 217.7,608.6 218.8,607.7 219.8,607.7 220.8,606.9 221.8,607.9 222.8,607.0 223.8,608.0 224.8,607.5 225.8,607.5 226.8,607.7 227.8,606.0 228.8,605.4 229.9,605.6 230.9,605.4 231.9,605.1 232.9,604.9 233.9,605.9 234.9,606.4 235.9,605.4 236.9,606.3 237.9,606.1 238.9,604.1 240.0,605.2 241.0,604.6 242.0,603.9 243.0,605.6 244.0,603.9 245.0,604.3 246.0,604.3 247.0,604.3 248.0,604.9 249.0,604.1 250.0,603.4 251.1,603.4 252.1,602.6 253.1,604.2 254.1,604.1 255.1,602.3 256.1,601.8 257.1,602.1 258.1,602.2 259.1,603.3 260.1,603.1 261.1,602.8 262.2,601.0 263.2,602.5 264.2,602.1 265.2,601.9 266.2,602.5 267.2,600.3 268.2,600.4 269.2,601.6 270.2,601.8 271.2,601.1 272.3,600.1 273.3,600.7 274.3,600.9 275.3,599.3 276.3,599.7 277.3,599.9 278.3,599.2 279.3,598.8 280.3,599.5 281.4,598.7 282.4,598.7 283.4,598.4 284.4,599.4 285.4,597.8 286.4,599.3 287.4,598.0 288.4,597.5 289.4,599.3 290.5,597.7 291.5,599.1 292.5,598.8 293.5,598.8 294.5,597.0 295.5,597.5 296.5,596.6 297.6,598.3 298.6,598.0 299.6,597.4 300.6,596.9 301.6,596.5 302.6,597.5 303.6,596.6 304.6,596.8 305.6,595.6 306.7,595.7 307.7,595.2 308.7,596.5 309.7,595.9 310.7,595.9 311.7,594.9 312.7,596.4 313.7,594.9 314.8,595.1 315.8,594.4 316.8,594.6 317.8,595.7 318.8,594.5 319.8,594.0 320.8,594.6 321.8,594.1 322.8,595.2 323.8,593.4 324.9,595.2 325.9,593.0 326.9,594.7 327.9,594.1 328.9,593.0 329.9,593.5 330.9,592.9 331.9,592.7 332.9,592.5 333.9,592.7 334.9,594.0 336.0,593.9 337.0,593.6 338.0,591.7 339.0,592.0 340.0,592.3 341.0,593.1 342.0,591.1 343.0,592.4 344.1,591.4 345.1,592.8 346.1,590.5 347.1,592.1 348.1,591.0 349.1,590.4 350.1,590.0 351.1,591.7 352.1,590.9 353.2,590.1 354.2,590.5 355.2,591.4 356.2,590.4 357.2,589.7 358.2,590.4 359.2,589.4 360.2,589.4 361.2,590.6 362.2,590.4 363.2,589.2 364.2,588.8 365.3,588.8 366.3,589.8 367.3,589.5 368.3,588.9 369.3,588.7 370.3,589.5 371.3,589.6 372.3,589.1 373.3,589.7 374.3,589.1 375.3,588.1 376.4,587.7 377.4,589.1 378.4,588.3 379.4,588.9 380.4,587.3 381.4,588.9 382.4,587.7 383.4,588.8 384.4,588.7 385.5,587.8 386.5,586.6 387.5,588.5 388.5,587.5 389.5,587.4 390.5,588.2 391.5,586.8 392.6,586.6 393.6,588.0 394.6,586.9 395.6,586.4 396.6,586.8 397.6,587.3 398.6,585.9 399.6,587.0 400.6,586.8 401.7,586.9 402.7,586.0 403.7,587.2 404.7,586.7 405.7,587.4 406.7,587.5 407.7,586.3 408.7,587.2 409.7,586.4 410.7,587.3 411.7,585.7 412.8,587.5 413.8,587.7 414.8,586.7 415.8,586.7 416.8,586.8 417.8,586.8 418.8,585.6 419.8,587.7 420.8,586.7 421.8,586.1 422.8,586.0 423.8,585.9 424.9,586.2 425.9,587.5 426.9,585.8 427.9,585.9 428.9,587.3 429.9,586.2 430.9,585.8 431.9,587.1 432.9,587.1 434.0,587.0 435.0,587.4 436.0,586.1 437.0,587.0 438.0,587.8 439.0,587.5 440.0,586.1 441.1,586.3 442.1,587.1 443.1,587.2 444.1,586.7 445.1,586.4 446.1,587.1 447.1,586.5 448.1,587.5 449.1,588.2 450.2,586.6 451.2,587.6 452.2,588.0 453.2,587.5 454.2,586.8 455.2,588.4 456.2,588.7 457.2,587.6 458.2,587.7 459.2,588.7 460.2,588.1 461.2,587.9 462.3,589.2 463.3,588.9 464.3,588.0 465.3,587.9 466.3,588.2 467.3,588.5 468.3,589.8 469.3,588.8 470.3,589.6 471.3,590.0 472.3,590.0 473.4,590.2 474.4,588.7 475.4,589.9 476.4,591.0 477.4,591.1 478.4,589.8 479.4,590.3 480.4,590.9 481.4,590.5 482.5,591.1 483.5,590.2 484.5,591.2 485.5,591.5 486.5,591.7 487.5,590.8 488.5,591.3 489.6,593.3 490.6,593.0 491.6,593.5 492.6,593.1 493.6,593.6 494.6,594.0 495.6,594.2 496.6,592.5 497.6,594.0 498.7,593.3 499.7,594.4 500.7,593.7 501.7,594.4 502.7,594.7 503.7,595.8 504.7,595.3 505.7,594.8 506.7,595.6 507.7,595.6 508.7,597.0 509.8,595.7 510.8,596.0 511.8,597.0 512.8,596.0 513.8,597.3 514.8,598.3 515.8,597.6 516.8,597.3 517.8,598.0 518.8,598.2 519.8,598.7 520.8,598.2 521.9,598.4 522.9,598.7 523.9,599.4 524.9,600.0 525.9,600.0 527.0,600.2 528.0,600.2 529.0,601.5 530.0,601.7 531.0,602.7 532.0,602.4 533.0,602.5 534.0,602.9 535.0,602.1 536.0,603.4 537.0,603.1 538.0,603.5 539.0,603.6 540.0,604.4 541.0,604.7 542.0,605.0 543.0,605.4 544.1,606.0 545.1,607.2 546.1,607.5 547.1,608.6 548.1,609.0 549.1,608.4 550.1,609.7 551.1,611.3 552.1,610.4 553.1,611.6 554.1,612.0 555.1,612.0 556.1,614.1 557.1,613.5 558.2,613.9 559.2,615.8 560.3,615.4 561.3,616.0 562.4,618.7 563.4,618.6 564.5,619.6 565.5,619.1 566.5,620.2 567.5,620.7 568.5,621.8 569.5,620.9 570.5,621.6 571.5,623.6 572.5,623.5 573.5,622.7 574.5,623.5 575.5,624.3 576.6,624.3 577.6,625.4 578.7,625.6 579.8,626.5 580.8,626.8 581.9,626.4 583.0,627.3 584.0,627.6 585.1,628.0 586.2,627.7 587.2,628.8 588.3,628.5 589.4,629.5 590.4,630.5 591.5,629.3 592.5,631.5 593.6,630.1 594.7,632.3 595.7,632.5 596.8,632.8 597.9,633.3 598.9,634.9 600.0,634.5 601.0,634.7 602.1,636.0 603.2,636.8 604.2,636.7 605.3,637.0 606.5,637.4 607.7,638.3 608.8,638.9 610.0,640.2 611.2,640.4 612.5,641.2 613.8,643.0 614.9,643.2 615.9,644.0 617.0,644.0 618.0,644.3 619.1,645.8 620.2,646.3 621.2,646.0 622.3,646.4 623.4,646.7 624.4,646.6 625.5,647.2 626.5,647.3 627.6,648.7 628.7,649.1 629.7,648.5 630.8,649.8 631.9,651.5 632.9,650.9 634.0,652.8 635.0,653.5 636.1,654.5 637.2,653.6 638.2,654.8 639.3,655.7 640.3,657.7 641.4,656.8 642.5,657.9 643.5,660.0 644.5,660.8 645.6,661.2 646.7,662.8 647.7,662.5 648.8,664.7 649.9,665.9 651.0,668.5 652.0,669.1 653.1,670.8 654.2,672.8 655.3,674.0 656.4,675.0 657.4,676.2 658.5,678.0 659.6,678.7 660.6,681.3 661.7,681.6 662.8,683.1 663.9,683.9 665.0,684.0 666.0,685.7 667.1,686.9 668.2,688.3 669.3,689.3 670.5,693.6 674.3,716.5 676.3,699.3 678.0,702.2 680.0,750.9 683.8,739.5 684.9,676.3 687.2,616.1 688.6,573.0 690.1,553.0 692.1,542.1 693.5,598.9 694.7,702.2 695.8,782.5 697.8,745.2 699.5,739.5 701.0,664.9 702.4,657.7 704.4,690.7 706.7,702.2 708.1,716.5 710.1,687.8 713.0,673.5 714.5,676.5 715.9,679.2 718.2,633.3 719.2,634.1 720.2,633.3 721.6,619.0 723.6,647.6 725.9,630.4 728.2,613.2 730.2,636.2 731.6,653.4 732.7,655.1 733.8,654.8 734.8,655.4 735.9,656.3 736.9,656.1 738.0,656.4 739.0,654.5 740.0,654.4 741.1,654.0 742.1,654.2 743.2,653.1 743.9,644.1 745.0,642.7 746.0,642.4 747.1,643.2 748.2,642.2 749.2,640.9 750.3,640.2 751.6,636.7 752.9,635.0 753.9,635.0 755.0,633.6 756.0,633.0 757.1,632.5 758.1,630.5 759.4,634.0 760.7,635.7 761.7,635.0 762.8,633.9 763.8,633.7 764.9,633.6 765.9,633.1 766.9,632.6 768.0,631.4 769.0,630.8 770.0,631.3 771.0,630.7 772.1,629.7 773.1,630.5 774.1,629.2 775.2,627.4 776.2,627.9 778.8,635.0 779.9,634.0 781.0,633.9 782.0,632.0 783.1,632.0 784.2,629.7 785.3,629.9 786.4,628.6 787.4,628.9 788.5,627.5 789.6,626.8 790.6,624.9 791.7,624.7 792.7,624.2 793.7,623.8 794.7,622.7 795.7,623.0 796.8,622.3 797.8,622.8 798.8,621.4 799.8,620.5 800.8,620.2 801.9,617.8 802.9,616.4 804.0,615.6 805.3,630.5 806.6,631.4 807.9,631.2 809.0,628.7 810.1,627.1 811.3,625.6 812.4,624.7 813.1,610.0 814.1,608.7 815.1,608.0 816.2,606.1 817.2,605.2 818.2,603.1 819.4,601.2 820.6,600.2 821.8,601.0 823.0,599.5 823.6,589.3 824.0,575.5 825.0,574.2 826.0,574.1 827.0,572.4 828.0,571.8 829.1,579.1 830.3,577.4 831.4,576.5 832.6,575.2 833.7,575.9 834.9,574.0 836.1,574.6 837.3,574.5 838.4,575.2 839.6,575.5 840.8,576.2 841.9,574.1 843.0,574.9 844.0,573.1 845.1,572.9 846.2,570.7 847.3,569.7 848.3,569.7 849.3,568.7 850.4,568.0 851.4,569.8 852.4,568.6 853.9,571.8 855.1,571.6 856.2,569.4 857.4,569.6 858.5,568.4 859.7,566.7 860.9,565.7 862.0,565.8 863.2,566.0 864.3,564.4 865.5,563.8 866.5,564.5 867.6,562.7 868.6,562.8 869.7,563.3 870.7,561.9 871.8,561.8 872.8,562.0 874.2,560.8 875.7,558.0 877.1,557.3 878.1,558.7 879.1,560.8 880.1,561.6 881.3,560.2 882.5,559.2 883.7,559.1 884.8,558.4 885.8,557.7 886.9,559.0 887.9,557.2 889.0,557.4 890.0,556.9 891.1,555.7 892.3,556.2 893.5,555.4 894.6,555.3 895.6,554.8 896.7,553.7 897.7,553.5 898.7,554.8 899.8,553.4 900.8,552.9 901.9,552.4 902.9,552.3 903.9,551.9 905.0,551.1 906.0,552.2 907.0,551.2 908.1,550.5 909.1,550.9 910.1,551.1 911.2,549.5 912.2,549.6 913.3,550.6 914.3,548.8 915.4,549.2 916.4,549.8 917.4,549.5 918.5,547.8 919.5,548.0 920.6,548.6 921.6,547.5 922.7,548.6 923.7,547.3 924.7,546.5 925.8,547.9 926.8,546.7 927.8,545.9 928.9,546.2 929.9,545.2 931.0,546.3 932.0,545.1 933.0,546.3 934.1,545.4 935.1,544.7 936.1,544.3 937.2,544.8 938.2,544.4 939.2,543.6 940.3,544.9 941.3,543.1 942.4,543.8 943.4,543.7 944.5,543.0 945.5,543.9 946.5,542.9 947.6,543.3 948.6,543.0 949.7,542.3 950.7,542.3 951.8,541.4 952.8,542.2 953.8,541.3 954.9,542.6 955.9,541.2 956.9,541.8 958.0,540.4 959.0,541.2 960.0,540.6 961.1,540.7 962.1,540.1 963.2,539.4 964.2,539.7 965.2,539.4 966.3,539.0 967.3,539.6 968.3,539.8 969.4,538.7 970.4,538.7 971.5,539.6 972.5,539.1 973.6,539.1 974.6,538.8 975.6,537.0 976.7,537.1 977.7,536.3 978.8,537.5 979.8,537.2 980.9,536.3 981.9,536.4 982.9,536.0 984.0,536.3 985.0,536.2 986.0,535.0 987.1,536.1 988.1,534.8 989.1,535.2 990.2,534.0 991.2,533.7 992.3,535.2 993.3,534.6 994.3,534.4 995.4,532.7 996.4,533.5 997.4,532.3 998.5,532.3 999.5,532.2 1000.6,532.2 1001.6,532.2 1002.7,531.2 1003.7,531.6 1004.7,532.1 1005.8,530.9 1006.8,532.2 1007.9,531.4 1008.9,531.5 1010.0,530.3 1011.0,530.6 1012.0,530.3 1013.1,530.7 1014.1,529.8 1015.1,528.9 1016.2,530.5 1017.2,530.3 1018.2,529.0 1019.3,528.3 1020.3,530.0 1021.4,529.3 1022.4,527.9 1023.4,528.2 1024.5,527.7 1025.5,528.4 1026.5,528.8 1027.6,527.3 1028.6,528.7 1029.7,528.1 1030.7,526.5 1031.8,527.6 1032.8,526.7 1033.8,527.3 1034.9,527.3 1035.9,525.8 1037.0,525.2 1038.0,526.9 1039.1,525.5 1040.1,525.5 1041.2,526.3 1042.3,525.7 1043.4,525.6 1044.5,525.7 1045.6,525.1 1046.7,524.6 1047.8,523.6 1048.9,524.9 1050.0,524.3 1051.1,523.9 1052.1,523.9 1053.2,524.6 1054.2,522.6 1055.3,523.8 1056.3,522.0 1057.4,523.2 1058.4,523.2 1059.5,521.8 1060.5,522.2 1061.6,523.0 1062.6,522.0 1063.7,521.5 1064.8,521.4 1065.8,520.5 1066.9,519.9 1067.9,520.4 1069.0,520.3 1070.1,519.6 1071.1,519.6 1072.2,519.0 1073.3,520.1 1074.3,519.8 1075.4,518.6 1076.4,518.4 1077.5,518.8 1078.6,518.6 1079.6,518.2 1080.7,519.1 1081.7,517.6 1082.8,517.3 1083.8,518.4 1084.9,516.5 1085.9,517.2 1087.0,516.5 1088.0,517.3 1089.1,516.5 1090.1,516.8 1091.2,516.0 1092.3,515.1 1093.4,516.0 1094.5,515.6 1095.6,515.1 1096.7,515.6 1097.8,515.5 1098.9,513.8 1100.0,514.4 1101.0,513.8 1102.0,513.7 1103.1,513.2 1104.1,512.7 1105.1,513.0 1106.1,512.7 1107.1,513.6 1108.2,512.9 1109.2,511.9 1110.2,512.2 1111.2,512.4 1112.3,512.0 1113.3,511.3 1114.3,511.0 1115.3,510.6 1116.3,512.6 1117.4,511.9 1118.4,510.3 1119.4,511.0 1120.5,511.2 1121.6,511.4 1122.6,510.2 1123.7,508.9 1124.8,509.4 1125.9,508.9 1126.9,508.1 1128.0,508.5 1129.1,508.1 1130.4,506.9 1131.7,508.7 1133.0,507.6 1134.5,502.8 1135.5,502.8 1136.9,506.2 1138.0,506.3 1139.0,506.0 1140.1,506.4 1141.1,505.5 1142.2,504.3 1143.2,504.1 1144.3,503.6 1145.3,503.1 1146.4,504.4 1147.4,504.3 1148.5,503.3 1149.6,502.7 1150.7,502.3 1151.7,503.2 1152.8,503.5 1153.9,503.5 1155.0,501.7 1156.0,502.9 1157.1,502.9 1158.2,502.0 1159.2,502.3 1160.2,501.1 1161.3,500.5 1162.3,501.7 1163.3,500.3 1164.3,500.1 1165.3,500.3 1166.4,499.6 1167.4,500.4 1168.4,498.8 1169.4,498.1 1170.5,499.0 1171.5,498.9 1172.5,499.0 1173.5,498.5 1174.5,498.7 1175.6,498.5 1176.6,497.3 1177.6,497.0 1178.7,496.7 1179.8,495.7 1180.8,495.7 1181.9,496.1 1183.0,494.7 1184.1,495.7 1185.1,494.3 1186.2,494.7 1187.3,494.5 1188.4,494.7 1189.4,492.0 1190.5,492.1 1192.0,492.1 1193.0,491.7 1194.0,493.2 1195.0,494.0 1196.1,493.0 1197.1,493.9 1198.2,492.0 1199.3,493.5 1200.3,493.3 1201.4,492.8 1202.4,491.7 1203.5,491.1 1204.6,491.7 1205.6,491.0 1206.7,490.7 1207.9,489.9 1209.1,489.1 1210.3,488.7 1211.5,488.2 1212.7,488.4 1213.9,488.6 1215.0,488.5 1216.2,486.7 1217.4,487.3 1219.0,487.0"/>
<polyline stroke="#C44E52" points="148.0,630.6 149.0,630.0 150.0,630.2 151.0,630.4 152.0,629.8 153.0,629.4 154.1,629.0 155.1,629.4 156.1,629.6 157.1,630.6 158.1,630.3 159.1,630.1 160.1,630.3 161.1,630.1 162.1,629.2 163.1,629.6 164.2,627.8 165.2,629.0 166.2,628.8 167.2,628.0 168.2,628.4 169.2,629.2 170.2,628.0 171.2,628.3 172.2,627.4 173.2,627.4 174.2,628.4 175.3,626.4 176.3,626.7 177.3,627.6 178.3,627.0 179.3,626.1 180.3,626.9 181.3,627.1 182.3,626.2 183.3,626.5 184.4,626.0 185.4,626.0 186.4,625.9 187.4,625.4 188.4,624.6 189.4,624.5 190.4,625.9 191.4,624.9 192.4,623.8 193.5,625.3 194.5,623.7 195.5,623.2 196.5,624.0 197.5,623.2 198.5,623.5 199.5,623.5 200.6,622.5 201.6,623.1 202.6,621.9 203.6,622.6 204.6,622.6 205.6,621.3 206.6,621.8 207.6,620.9 208.6,621.5 209.7,622.3 210.7,621.4 211.7,621.6 212.7,620.9 213.7,621.3 214.7,619.8 215.7,621.5 216.7,620.8 217.7,619.3 218.8,620.7 219.8,619.6 220.8,619.0 221.8,620.6 222.8,619.5 223.8,619.9 224.8,618.3 225.8,619.6 226.8,617.8 227.8,618.1 228.8,618.2 229.9,617.3 230.9,618.4 231.9,617.4 232.9,617.5 233.9,618.2 234.9,617.4 235.9,618.3 236.9,617.6 237.9,618.0 238.9,617.1 240.0,617.8 241.0,617.5 242.0,615.8 243.0,616.9 244.0,615.9 245.0,616.1 246.0,616.6 247.0,616.3 248.0,616.5 249.0,614.8 250.0,615.2 251.1,615.9 252.1,616.3 253.1,615.7 254.1,614.1 255.1,615.2 256.1,613.9 257.1,614.8 258.1,615.3 259.1,613.6 260.1,615.3 261.1,614.6 262.2,613.6 263.2,613.3 264.2,613.8 265.2,614.5 266.2,613.9 267.2,612.7 268.2,612.4 269.2,612.5 270.2,613.9 271.2,612.4 272.3,613.1 273.3,612.4 274.3,613.2 275.3,612.4 276.3,611.7 277.3,612.4 278.3,613.1 279.3,612.3 280.3,612.5 281.4,612.6 282.4,612.8 283.4,610.7 284.4,611.3 285.4,610.7 286.4,611.4 287.4,612.1 288.4,611.8 289.4,610.0 290.5,610.2 291.5,611.5 292.5,611.1 293.5,610.4 294.5,610.4 295.5,609.6 296.5,611.0 297.6,609.9 298.6,610.9 299.6,610.2 300.6,608.9 301.6,609.3 302.6,609.0 303.6,610.3 304.6,609.6 305.6,608.2 306.7,608.4 307.7,608.7 308.7,608.8 309.7,608.8 310.7,608.9 311.7,608.3 312.7,608.1 313.7,607.2 314.8,608.4 315.8,607.7 316.8,606.9 317.8,607.8 318.8,608.8 319.8,606.6 320.8,606.7 321.8,607.8 322.8,606.8 323.8,606.7 324.9,607.1 325.9,606.4 326.9,607.0 327.9,606.8 328.9,607.6 329.9,607.5 330.9,605.3 331.9,606.4 332.9,606.7 333.9,606.8 334.9,606.5 336.0,606.1 337.0,605.9 338.0,605.2 339.0,604.9 340.0,605.3 341.0,605.8 342.0,605.8 343.0,605.8 344.1,605.1 345.1,604.1 346.1,604.9 347.1,604.7 348.1,604.1 349.1,604.2 350.1,603.4 351.1,603.7 352.1,603.2 353.2,602.3 354.2,602.8 355.2,602.6 356.2,602.8 357.2,603.8 358.2,602.6 359.2,602.2 360.2,601.8 361.2,601.7 362.2,601.9 363.2,601.3 364.2,600.9 365.3,602.7 366.3,601.7 367.3,601.6 368.3,601.8 369.3,601.1 370.3,600.7 371.3,600.3 372.3,601.2 373.3,600.7 374.3,600.6 375.3,601.5 376.4,601.0 377.4,601.8 378.4,600.4 379.4,601.6 380.4,600.8 381.4,599.7 382.4,599.8 383.4,600.6 384.4,601.4 385.5,600.0 386.5,600.8 387.5,600.0 388.5,600.1 389.5,600.9 390.5,599.1 391.5,600.0 392.6,600.9 393.6,599.5 394.6,599.4 395.6,598.8 396.6,599.1 397.6,599.3 398.6,600.2 399.6,599.1 400.6,599.5 401.7,599.0 402.7,599.9 403.7,600.4 404.7,599.6 405.7,599.9 406.7,598.8 407.7,600.0 408.7,600.4 409.7,599.6 410.7,598.4 411.7,599.9 412.8,600.0 413.8,598.8 414.8,598.3 415.8,598.4 416.8,599.1 417.8,599.8 418.8,599.2 419.8,599.8 420.8,598.8 421.8,598.2 422.8,598.4 423.8,599.3 424.9,599.1 425.9,598.6 426.9,599.2 427.9,598.4 428.9,597.8 429.9,598.6 430.9,597.8 431.9,599.1 432.9,598.4 434.0,598.8 435.0,599.0 436.0,598.3 437.0,598.8 438.0,598.7 439.0,597.7 440.0,599.7 441.1,598.9 442.1,599.8 443.1,597.7 444.1,598.9 445.1,599.1 446.1,598.3 447.1,597.7 448.1,597.8 449.1,597.8 450.2,599.1 451.2,597.6 452.2,599.2 453.2,598.5 454.2,598.4 455.2,598.7 456.2,598.8 457.2,598.8 458.2,599.0 459.2,598.9 460.2,598.4 461.2,599.3 462.3,598.3 463.3,599.3 464.3,599.5 465.3,599.6 466.3,598.6 467.3,599.6 468.3,600.1 469.3,599.1 470.3,599.0 471.3,598.7 472.3,599.2 473.4,600.2 474.4,598.4 475.4,598.2 476.4,599.3 477.4,599.7 478.4,600.0 479.4,599.1 480.4,600.5 481.4,598.9 482.5,600.1 483.5,598.6 484.5,598.5 485.5,599.6 486.5,599.0 487.5,599.0 488.5,600.2 489.6,600.5 490.6,599.9 491.6,601.8 492.6,600.7 493.6,600.4 494.6,600.7 495.6,602.1 496.6,602.7 497.6,601.3 498.7,601.2 499.7,603.0 500.7,602.0 501.7,602.8 502.7,604.0 503.7,603.1 504.7,603.6 505.7,603.1 506.7,604.2 507.7,603.6 508.7,603.5 509.8,604.9 510.8,603.3 511.8,604.9 512.8,603.6 513.8,605.0 514.8,604.6 515.8,605.8 516.8,604.2 517.8,605.3 518.8,604.7 519.8,603.7 520.9,604.0 521.9,602.4 523.0,603.8 524.1,603.5 525.3,603.1 526.4,603.5 527.5,604.5 528.8,605.6 530.0,607.8 531.0,608.1 532.1,608.1 533.1,608.4 534.1,610.1 535.1,610.3 536.2,609.9 537.2,610.8 538.2,612.1 539.2,610.6 540.2,611.6 541.2,610.8 542.3,612.6 543.3,612.8 544.3,611.7 545.3,613.0 546.3,612.6 549.0,626.1 551.7,609.9 553.4,631.9 554.4,633.6 555.4,633.3 556.5,634.3 557.5,635.6 558.5,636.6 559.6,638.0 560.8,637.0 561.9,638.7 563.0,639.1 564.2,639.3 565.3,640.0 566.4,640.7 567.6,641.8 568.7,640.9 569.8,642.8 571.0,642.2 572.1,643.0 573.2,645.6 574.4,647.7 575.5,648.9 577.2,654.0 578.5,652.9 579.8,653.2 580.9,655.4 582.1,657.1 583.2,657.4 584.5,655.9 585.7,655.3 587.0,657.5 588.3,661.7 589.4,661.2 590.5,663.5 591.6,661.7 592.6,664.0 593.7,662.7 594.8,664.4 595.9,664.2 598.5,671.0 599.5,670.8 600.6,671.6 601.7,673.4 602.7,673.6 603.7,672.9 604.7,673.6 605.8,675.0 606.8,674.7 607.8,674.4 610.4,681.2 611.5,682.8 612.7,683.7 613.8,682.3 614.9,683.5 616.1,685.4 617.2,685.5 618.2,686.5 619.3,685.7 620.4,687.4 621.4,688.0 622.4,687.9 623.4,688.9 624.5,688.7 625.5,689.0 626.5,690.6 627.6,692.3 628.6,691.4 629.7,693.3 630.8,693.1 631.8,692.9 632.9,694.4 634.0,694.2 635.0,695.7 636.6,718.3 638.4,734.6 640.6,748.1 642.6,714.8 643.8,703.3 645.1,712.2 646.4,674.0 648.3,684.2 650.0,668.9 652.1,679.1 653.4,690.6 655.3,695.7 657.9,676.5 659.8,665.0 661.0,663.6 662.3,662.5 664.2,681.6 665.2,732.5 666.8,653.6 668.1,640.8 669.5,657.4 670.6,614.0 671.9,657.4 673.2,667.6 674.3,773.9 676.8,818.2 678.8,750.6 680.0,702.2 682.0,644.8 683.1,646.9 684.3,650.5 686.6,630.4 688.6,659.1 690.6,613.2 691.8,615.1 692.9,616.1 694.0,616.8 695.2,619.0 697.2,662.0 698.7,660.6 700.1,676.3 701.5,674.0 703.0,670.6 704.0,670.5 705.0,669.5 706.0,669.9 707.0,670.0 708.0,670.8 709.0,669.4 710.0,669.0 711.0,670.5 712.0,670.2 713.0,669.2 714.1,669.5 715.1,668.3 716.2,667.9 717.3,667.9 718.4,667.3 719.5,667.1 720.5,667.9 721.6,667.7 722.7,667.0 723.8,666.7 724.8,665.8 725.9,664.5 727.0,665.4 728.1,664.8 729.1,664.0 730.2,663.4 731.3,662.6 732.4,662.0 733.4,661.8 734.5,660.7 735.6,659.4 736.6,657.9 737.7,656.8 738.8,656.3 740.0,658.3 741.0,657.2 742.0,657.5 743.0,655.3 744.0,654.4 745.0,653.5 746.0,652.0 747.0,653.0 748.0,649.9 749.0,650.3 750.0,649.1 751.5,650.1 752.9,649.3 753.9,648.0 754.9,648.1 755.9,646.8 756.9,645.7 757.9,644.9 758.9,644.0 759.9,644.8 760.9,644.0 761.9,643.5 762.9,640.8 763.9,641.5 764.9,640.0 765.9,639.6 767.0,639.1 768.0,638.1 769.1,636.8 770.2,637.4 771.3,634.5 772.3,635.3 773.4,634.7 774.5,633.2 775.6,632.5 776.6,632.6 777.7,630.1 778.8,629.9 779.9,629.1 780.9,628.3 782.0,626.4 783.1,626.0 784.2,624.2 785.2,623.5 786.3,622.6 787.4,621.6 788.5,619.8 789.6,619.4 790.6,618.1 791.7,616.9 792.7,615.2 793.8,615.0 794.8,613.1 795.9,613.4 796.9,611.4 797.9,610.9 799.0,609.3 800.0,608.2 801.0,607.3 802.1,605.9 803.1,604.9 804.2,605.8 805.2,604.1 806.3,603.3 807.3,602.4 808.3,601.7 809.4,601.6 810.4,599.6 811.5,598.8 812.5,599.5 813.6,597.9 814.6,597.3 815.6,597.2 816.7,597.2 817.7,596.9 818.7,596.5 819.7,594.2 820.8,594.6 821.8,594.4 822.8,594.7 823.9,594.3 824.9,592.3 826.0,592.0 827.0,591.8 828.1,591.0 829.1,591.5 830.1,590.4 831.2,590.5 832.2,589.1 833.3,588.1 834.3,586.5 835.4,586.3 836.4,585.7 837.4,586.3 838.5,585.1 839.5,584.0 840.6,583.5 841.6,583.7 842.7,583.1 843.7,582.0 844.7,580.5 845.8,580.9 846.8,579.5 847.8,579.1 848.8,577.8 849.9,577.3 850.9,576.9 851.9,576.1 853.0,575.8 854.0,574.6 855.1,574.6 856.1,575.0 857.2,573.4 858.2,574.0 859.2,572.9 860.3,573.7 861.3,572.3 862.4,572.0 863.4,571.4 864.5,572.2 865.5,571.1 866.5,569.9 867.6,570.8 868.6,570.9 869.7,569.2 870.7,569.4 871.8,569.9 872.8,568.9 873.8,568.8 874.9,567.9 875.9,566.8 877.0,567.3 878.0,566.8 879.1,567.2 880.1,566.4 881.2,565.7 882.3,565.8 883.4,566.1 884.5,566.3 885.6,565.1 886.7,564.9 887.8,565.2 888.9,565.7 890.0,564.6 891.1,563.6 892.3,565.0 893.5,564.1 894.6,563.3 895.6,562.7 896.7,563.0 897.7,562.0 898.7,561.1 899.8,562.3 900.8,561.1 901.9,561.2 902.9,560.8 903.9,561.4 905.0,560.7 906.0,558.8 907.0,559.7 908.1,559.1 909.1,558.9 910.1,558.6 911.2,559.2 912.2,558.1 913.3,558.0 914.3,558.7 915.4,557.5 916.4,557.4 917.4,557.3 918.5,557.7 919.5,557.2 920.6,557.2 921.6,556.2 922.7,555.2 923.7,556.0 924.7,556.1 925.8,555.6 926.8,555.8 927.8,555.6 928.9,553.9 929.9,553.8 931.0,553.3 932.0,554.6 933.0,552.8 934.1,552.5 935.1,553.7 936.1,553.1 937.2,551.7 938.2,552.4 939.2,552.6 940.3,552.5 941.3,551.7 942.4,550.6 943.4,551.8 944.5,551.0 945.5,551.1 946.5,551.8 947.6,551.2 948.6,551.1 949.7,549.3 950.7,549.5 951.8,549.7 952.8,549.5 953.8,548.2 954.9,550.2 955.9,548.4 956.9,548.2 958.0,548.2 959.0,547.8 960.0,549.0 961.1,548.1 962.1,547.9 963.2,547.5 964.2,546.5 965.2,546.8 966.3,547.9 967.3,546.9 968.3,547.3 969.4,547.2 970.4,545.7 971.5,545.3 972.5,544.8 973.6,545.6 974.6,545.0 975.6,545.0 976.7,544.8 977.7,544.8 978.8,544.1 979.8,544.8 980.9,543.3 981.9,543.7 982.9,544.4 984.0,543.4 985.0,542.1 986.0,542.4 987.1,542.7 988.1,542.2 989.1,542.3 990.2,541.6 991.2,541.3 992.3,542.2 993.3,540.9 994.3,541.6 995.4,541.6 996.4,540.7 997.4,540.7 998.5,540.2 999.5,541.0 1000.6,539.8 1001.6,540.5 1002.7,538.5 1003.7,539.1 1004.7,539.3 1005.8,537.8 1006.8,539.4 1007.9,537.5 1008.9,538.4 1010.0,537.3 1011.0,537.8 1012.0,538.5 1013.1,537.5 1014.1,537.8 1015.1,537.0 1016.2,537.1 1017.2,536.9 1018.2,535.9 1019.3,535.5 1020.3,536.7 1021.4,534.9 1022.4,536.4 1023.4,534.7 1024.5,534.2 1025.5,534.9 1026.5,533.8 1027.6,535.2 1028.6,535.3 1029.7,534.0 1030.7,534.3 1031.8,533.3 1032.8,534.5 1033.8,533.8 1034.9,532.5 1035.9,532.1 1037.0,533.3 1038.0,531.7 1039.1,533.2 1040.1,532.3 1041.2,531.7 1042.3,531.5 1043.4,532.1 1044.5,531.4 1045.6,531.8 1046.7,530.8 1047.8,532.4 1048.9,530.9 1050.0,531.2 1051.1,531.7 1052.1,530.0 1053.2,531.2 1054.2,531.4 1055.3,529.9 1056.3,528.9 1057.4,529.4 1058.4,529.8 1059.5,528.7 1060.5,529.1 1061.6,527.9 1062.6,528.5 1063.7,528.4 1064.8,528.7 1065.8,527.8 1066.9,528.2 1067.9,526.7 1069.0,528.1 1070.1,526.3 1071.1,527.9 1072.2,527.8 1073.3,527.5 1074.3,526.4 1075.4,525.7 1076.4,525.6 1077.5,525.7 1078.6,526.0 1079.6,525.2 1080.7,525.8 1081.7,523.7 1082.8,524.3 1083.8,524.9 1084.9,524.0 1085.9,523.6 1087.0,522.4 1088.0,522.2 1089.1,522.2 1090.1,523.3 1091.2,522.2 1092.3,522.8 1093.4,521.2 1094.5,522.6 1095.6,520.4 1096.7,521.5 1097.8,522.1 1098.9,520.5 1100.0,520.7 1101.0,521.5 1102.0,520.7 1103.1,519.2 1104.1,519.6 1105.1,519.7 1106.1,519.1 1107.1,520.0 1108.2,518.6 1109.2,519.7 1110.2,518.5 1111.2,517.8 1112.3,518.7 1113.3,517.5 1114.3,518.3 1115.3,518.6 1116.3,518.0 1117.4,517.6 1118.4,516.5 1119.4,517.3 1120.4,517.1 1121.4,515.9 1122.5,516.8 1123.5,515.4 1124.5,516.1 1125.5,515.3 1126.5,515.1 1127.6,515.4 1128.6,514.1 1129.6,513.8 1130.6,515.2 1131.7,513.6 1132.7,514.4 1133.7,514.2 1134.7,513.1 1135.7,512.1 1136.8,511.7 1137.8,513.1 1138.8,512.0 1139.8,510.9 1140.8,511.5 1141.9,511.4 1142.9,510.2 1143.9,510.8 1144.9,509.9 1145.9,510.5 1147.0,510.2 1148.0,509.6 1149.0,509.0 1150.0,509.2 1151.1,508.6 1152.1,508.2 1153.1,508.2 1154.1,509.3 1155.1,508.3 1156.2,508.9 1157.2,506.8 1158.2,507.6 1159.2,508.4 1160.2,507.2 1161.3,507.6 1162.3,507.0 1163.3,507.0 1164.3,505.8 1165.3,506.8 1166.4,505.2 1167.4,505.3 1168.4,504.6 1169.4,505.2 1170.5,505.2 1171.5,504.5 1172.5,505.7 1173.5,503.7 1174.5,504.6 1175.6,503.6 1176.6,504.2 1177.6,503.8 1178.7,504.1 1179.8,503.7 1180.8,502.0 1181.9,502.1 1183.0,502.6 1184.1,503.2 1185.1,500.8 1186.2,501.8 1187.3,501.3 1188.4,501.6 1189.5,501.7 1190.5,500.5 1191.6,501.4 1192.7,500.4 1193.8,501.3 1194.8,499.1 1195.9,501.0 1197.0,499.9 1198.1,499.4 1199.2,499.2 1200.2,498.2 1201.3,498.3 1202.4,499.1 1203.5,498.7 1204.5,497.3 1205.6,497.4 1206.7,497.5 1207.8,496.6 1208.9,496.6 1209.9,496.5 1211.0,496.7 1212.1,498.0 1213.2,497.9 1214.2,497.4 1215.3,496.6 1216.4,496.5 1217.8,492.6 1219.0,491.0"/>
</g>
<rect x="159.5" y="658.7" width="345.8" height="166.4" rx="4.8" ry="4.8" fill="#EAEAF2" fill-opacity="0.8" stroke="#CCCCCC" stroke-opacity="0.8" stroke-width="2.4"/>
<line x1="169.5" y1="679.6" x2="223.5" y2="679.6" stroke="#4C72B0" stroke-width="3.3" stroke-linecap="round"/>
<text class="s" x="240.8" y="689.9" font-size="25.7" textLength="217.5" lengthAdjust="spacingAndGlyphs">Plusses: Up (fitted)</text>
<line x1="169.5" y1="719.4" x2="223.5" y2="719.4" stroke="#DD8452" stroke-width="3.3" stroke-linecap="round"/>
<text class="s" x="240.8" y="729.6" font-size="25.7" textLength="250.3" lengthAdjust="spacingAndGlyphs">Plusses: Down (fitted)</text>
<line x1="169.5" y1="759.1" x2="223.5" y2="759.1" stroke="#55A868" stroke-width="3.3" stroke-linecap="round"/>
<text class="s" x="241.8" y="769.4" font-size="25.7" textLength="219.6" lengthAdjust="spacingAndGlyphs">Crosses: Up (fitted)</text>
<line x1="169.5" y1="798.9" x2="223.5" y2="798.9" stroke="#C44E52" stroke-width="3.3" stroke-linecap="round"/>
<text class="s" x="241.8" y="809.1" font-size="25.7" textLength="251.9" lengthAdjust="spacingAndGlyphs">Crosses: Down (fitted)</text>
<text class="t" x="242.9" y="882.6" font-size="27">600</text>
<rect x="224.0" y="874.9" width="16" height="1.4" fill="#262626"/>
<text class="t" x="386.1" y="882.6" font-size="27">400</text>
<rect x="367.2" y="874.9" width="16" height="1.4" fill="#262626"/>
<text class="t" x="529.4" y="882.6" font-size="27">200</text>
<rect x="510.5" y="874.9" width="16" height="1.4" fill="#262626"/>
<text class="t" x="682.4" y="879.7" font-size="27" text-anchor="middle">0</text>
<text class="t" x="825.7" y="879.7" font-size="27" text-anchor="middle">200</text>
<text class="t" x="968.9" y="879.7" font-size="27" text-anchor="middle">400</text>
<text class="t" x="1112.2" y="879.7" font-size="27" text-anchor="middle">600</text>
<text class="t" x="122.5" y="147.9" font-size="27" text-anchor="end">0.50</text>
<text class="t" x="122.5" y="245.0" font-size="27" text-anchor="end">0.25</text>
<text class="t" x="122.5" y="342.1" font-size="27" text-anchor="end">0.00</text>
<text class="t" x="121.7" y="441.4" font-size="27" text-anchor="end">0.25</text>
<rect x="55.9" y="433.7" width="16" height="1.4" fill="#262626"/>
<text class="t" x="121.7" y="538.5" font-size="27" text-anchor="end">0.50</text>
<rect x="55.9" y="530.8" width="16" height="1.4" fill="#262626"/>
<text class="t" x="121.7" y="635.7" font-size="27" text-anchor="end">0.75</text>
<rect x="55.9" y="628.0" width="16" height="1.4" fill="#262626"/>
<text class="t" x="121.7" y="732.8" font-size="27" text-anchor="end">1.00</text>
<rect x="55.9" y="725.1" width="16" height="1.4" fill="#262626"/>
<text class="t" x="121.7" y="829.9" font-size="27" text-anchor="end">1.25</text>
<rect x="55.9" y="822.2" width="16" height="1.4" fill="#262626"/>
<text class="s" x="618.6" y="37.3" font-size="28.6" textLength="72.5" lengthAdjust="spacingAndGlyphs">M414:</text>
<text class="t" x="705.6" y="38.0" font-size="30" textLength="37" lengthAdjust="spacingAndGlyphs">90°</text>
<g class="t"><text x="608.1" y="913.8" font-size="29" font-style="italic">μ</text><text x="624.6" y="918.5" font-size="20">0</text><text x="637.3" y="913.8" font-size="29.5" font-style="italic" textLength="22" lengthAdjust="spacingAndGlyphs">H</text><text x="659.5" y="917.6" font-size="21" font-style="italic" textLength="26.5" lengthAdjust="spacingAndGlyphs">ext</text><text x="706.6" y="913.8" font-size="29.5" textLength="42.5" lengthAdjust="spacingAndGlyphs">mT</text></g>
<g fill="none" stroke="#262626" stroke-width="1.2"><polyline points="705.4,892.9 702.2,892.9 702.2,920.3 705.4,920.3"/><polyline points="750.2,892.9 753.4,892.9 753.4,920.3 750.2,920.3"/></g>
<g transform="translate(35.8,0) rotate(-90)" class="t"><text x="-499" y="0" font-size="29.5" font-style="italic" textLength="21" lengthAdjust="spacingAndGlyphs">B</text><text x="-477" y="3.6" font-size="21" font-style="italic">z</text><text x="-437" y="0" font-size="29.5" textLength="43" lengthAdjust="spacingAndGlyphs">mT</text></g>
<g fill="none" stroke="#262626" stroke-width="1.15" stroke-linejoin="miter"><polyline points="14.9,501.2 28.6,506.6 42.3,501.2"/><polyline points="14.9,464.3 28.6,458.2 42.3,464.3"/><polyline points="14.9,438.6 14.9,441.6 42.5,441.6 42.5,438.6"/><polyline points="14.9,392.4 14.9,389.4 42.5,389.4 42.5,392.4"/></g>
</svg>
</body></html>
